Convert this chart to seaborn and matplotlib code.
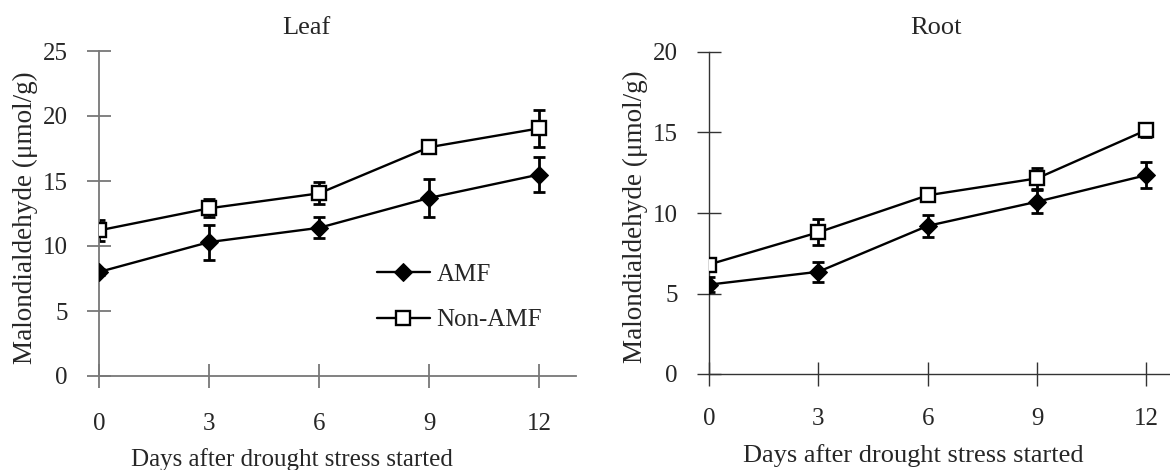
import matplotlib
matplotlib.use("Agg")
import matplotlib.pyplot as plt
import seaborn as sns
import pandas as pd

days = [0, 3, 6, 9, 12]

leaf_amf = [8.0, 10.3, 11.4, 13.7, 15.5]
leaf_amf_err = [0.2, 1.35, 0.8, 1.45, 1.35]
leaf_non = [11.2, 12.9, 14.05, 17.6, 19.05]
leaf_non_err = [0.8, 0.7, 0.85, 0.2, 1.4]

root_amf = [5.55, 6.35, 9.2, 10.7, 12.35]
root_amf_err = [0.45, 0.62, 0.7, 0.72, 0.8]
root_non = [6.8, 8.8, 11.1, 12.15, 15.15]
root_non_err = [0.2, 0.8, 0.15, 0.65, 0.45]

titles = ["Leaf", "Root"]
xlabel = "Days after drought stress started"
ylabel = "Malondialdehyde (μmol/g)"
yticks_leaf = [0, 5, 10, 15, 20, 25]
yticks_root = [0, 5, 10, 15, 20]

sns.set_theme(style="white")
plt.rcParams["font.family"] = ["Liberation Serif", "DejaVu Serif"]
FS = 18
FSY = 19.5

fig = plt.figure(figsize=(11.7, 4.7), dpi=100)
axL = fig.add_axes([99 / 1170, 1 - 376 / 470, (576 - 99) / 1170, (376 - 51) / 470])
axR = fig.add_axes([709 / 1170, 1 - 374 / 470, (1170 - 709) / 1170, (374 - 52) / 470])


def draw(ax, amf, amf_err, non, non_err, yt, xmax, title, axcol, axlw,
         tx, tpad, xpad, xlab_xy, xl_fs, ylab_xy):
    df = pd.DataFrame({"day": days, "amf": amf, "non": non})
    ax.errorbar(days, amf, yerr=amf_err, fmt="none", ecolor="black", elinewidth=2,
                capsize=4.5, capthick=2, zorder=2)
    ax.errorbar(days, non, yerr=non_err, fmt="none", ecolor="black", elinewidth=2,
                capsize=4.5, capthick=2, zorder=2)
    sns.lineplot(data=df, x="day", y="amf", ax=ax, color="black", linewidth=1.7,
                 marker="D", markersize=9.5, markerfacecolor="black",
                 markeredgecolor="black", label="AMF", zorder=3)
    sns.lineplot(data=df, x="day", y="non", ax=ax, color="black", linewidth=1.7,
                 marker="s", markersize=10, markerfacecolor="white",
                 markeredgecolor="black", markeredgewidth=1.7, label="Non-AMF", zorder=3)
    ax.set_xlim(0, xmax)
    ax.set_ylim(0, yt[-1])
    ax.set_xticks(days)
    ax.set_yticks(yt)
    ax.set_xticklabels([str(d) for d in days], fontsize=FS)
    ax.set_yticklabels([str(v) for v in yt], fontsize=FS)
    for s in ["top", "right"]:
        ax.spines[s].set_visible(False)
    for s in ["left", "bottom"]:
        ax.spines[s].set_color(axcol)
        ax.spines[s].set_linewidth(axlw)
        ax.spines[s].set_visible(True)
    ax.tick_params(axis="both", which="major", direction="inout", length=17,
                   width=axlw, color=axcol, left=True, bottom=True)
    ax.tick_params(axis="x", pad=xpad)
    ax.tick_params(axis="y", pad=14)
    ax.set_xlabel(xlabel, fontsize=xl_fs, va="center")
    ax.xaxis.set_label_coords(*xlab_xy)
    ax.set_ylabel(ylabel, fontsize=FSY, va="center")
    if ylab_xy is not None:
        ax.yaxis.set_label_coords(*ylab_xy)
    ax.set_title(title, fontsize=19, x=tx, pad=tpad)
    ax.patch.set_alpha(0)


draw(axL, leaf_amf, leaf_amf_err, leaf_non, leaf_non_err, yticks_leaf, 13.0,
     titles[0], "#777777", 1.3, 0.434, 12.5, 18, (0.405, -0.258), 18, (-0.155, 0.486))
draw(axR, root_amf, root_amf_err, root_non, root_non_err, yticks_root, 12.65,
     titles[1], "#333333", 1.0, 0.492, 13.2, 16, (0.4425, -0.2516), 19, (-0.16, 0.49))

axL.legend(loc="upper left", bbox_to_anchor=(0.562, 0.377), frameon=False, fontsize=FS,
           handlelength=2.1, handletextpad=0.28, labelspacing=0.92, borderaxespad=0)
axR.get_legend().remove()

fig.savefig("out.png", dpi=100)
